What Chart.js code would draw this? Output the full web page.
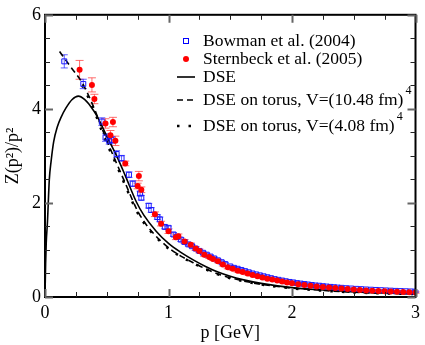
<!DOCTYPE html>
<html>
<head>
<meta charset="utf-8">
<script src="https://cdn.jsdelivr.net/npm/chart.js@4.4.1/dist/chart.umd.min.js"></script>
<style>
html,body{margin:0;padding:0;background:#fff;}
#c{display:block;}
</style>
</head>
<body>
<canvas id="c" width="425" height="345" style="width:425px;height:345px"></canvas>
<script>
// ---- data ----
const bowmanP = [0.156,0.31,0.46,0.49,0.52,0.54,0.58,0.62,0.68,0.71,0.77,0.78,0.84,0.86,0.91,0.93,0.97,1.00,1.04,1.07,1.10,1.13,1.16,1.19,1.22,1.25,1.28,1.31,1.34,1.37,1.40,1.43,1.46,1.50,1.53,1.56,1.59,1.62,1.65,1.68,1.71,1.74,1.77,1.80,1.83,1.86,1.89,1.92,1.95,1.98,2.01,2.04,2.07,2.10,2.13,2.16,2.19,2.22,2.25,2.28,2.31,2.34,2.37,2.40,2.44,2.48,2.52,2.56,2.60,2.64,2.68,2.72,2.76,2.80,2.84,2.88,2.92,2.96,3.00];
const bowmanZ = [5.01,4.53,3.73,3.39,3.32,3.34,3.04,2.95,2.60,2.41,2.20,2.11,1.94,1.85,1.70,1.65,1.49,1.47,1.33,1.28,1.22,1.17,1.12,1.08,1.03,0.98,0.94,0.90,0.86,0.82,0.78,0.74,0.70,0.65,0.62,0.60,0.575,0.55,0.525,0.50,0.48,0.46,0.44,0.42,0.40,0.38,0.365,0.35,0.335,0.32,0.31,0.295,0.285,0.275,0.265,0.255,0.245,0.24,0.23,0.222,0.215,0.208,0.20,0.195,0.187,0.18,0.173,0.167,0.16,0.155,0.15,0.145,0.14,0.135,0.13,0.126,0.122,0.118,0.115];
const bowmanErr = [0.14,0.10,0.08,0.08,0.07,0.07,0.07,0.06,0.06,0.06,0.05,0.05,0.05,0.05,0.05,0.05,0.04,0.04,0.04,0.04,0.04,0.04,0.03,0.03,0.03,0.03,0.03,0.03,0.03,0.03,0.03,0.03,0.03,0.025,0.025,0.025,0.025,0.025,0.025,0.025,0.02,0.02,0.02,0.02,0.02,0.02,0.02,0.02,0.02,0.02,0.02,0.02,0.02,0.02,0.015,0.015,0.015,0.015,0.015,0.015,0.015,0.015,0.015,0.015,0.015,0.015,0.015,0.015,0.015,0.015,0.015,0.015,0.015,0.015,0.015,0.015,0.015,0.015,0.015];

const sternbeckP = [0.28,0.38,0.40,0.49,0.53,0.55,0.57,0.65,0.75,0.76,0.78,0.89,0.94,1.00,1.06,1.08,1.13,1.18,1.22,1.25,1.29,1.33,1.36,1.40,1.44,1.48,1.52,1.56,1.60,1.64,1.68,1.72,1.76,1.80,1.84,1.88,1.92,1.96,2.00,2.05,2.10,2.15,2.20,2.25,2.30,2.35,2.40,2.45,2.50,2.55,2.60,2.65,2.70,2.75,2.80,2.85,2.90,2.95,3.00];
const sternbeckZ = [4.83,4.51,4.21,3.69,3.44,3.72,3.32,2.84,2.36,2.57,2.28,1.76,1.56,1.40,1.27,1.29,1.18,1.11,1.03,0.98,0.90,0.85,0.81,0.76,0.69,0.63,0.60,0.56,0.53,0.50,0.47,0.44,0.415,0.39,0.37,0.35,0.33,0.31,0.29,0.27,0.255,0.24,0.225,0.21,0.20,0.19,0.18,0.17,0.16,0.15,0.14,0.135,0.128,0.12,0.115,0.11,0.105,0.10,0.095];
const sternbeckErr = [0.20,0.15,0.10,0.10,0.10,0.10,0.10,0.05,0.06,0.10,0.06,0.05,0.05,0.05,0.05,0.05,0.04,0.04,0.04,0.04,0.04,0.03,0.03,0.03,0.03,0.03,0.03,0.03,0.03,0.03,0.025,0.025,0.025,0.025,0.02,0.02,0.02,0.02,0.02,0.02,0.02,0.02,0.02,0.015,0.015,0.015,0.015,0.015,0.015,0.015,0.015,0.015,0.015,0.015,0.015,0.015,0.015,0.015,0.015];

const dseP = [0,0.005,0.01,0.02,0.035,0.05,0.07,0.10,0.13,0.17,0.22,0.27,0.32,0.37,0.42,0.50,0.58,0.65,0.74,0.80,0.90,1.00,1.10,1.20,1.30,1.40,1.50,1.60,1.75,2.00,2.25,2.50,2.75,3.00];
const dseZ = [0,0.7,1.15,1.6,2.5,2.9,3.3,3.62,3.82,4.02,4.2,4.27,4.2,4.05,3.85,3.42,3.0,2.58,2.02,1.74,1.40,1.14,0.95,0.79,0.65,0.53,0.44,0.37,0.29,0.2,0.15,0.11,0.085,0.07];

const torus1P = [0.118,0.20,0.30,0.35,0.40,0.45,0.50,0.58,0.65,0.74,0.80,0.90,1.00,1.10,1.20,1.30,1.40,1.50,1.60,1.75,2.00,2.25,2.50,2.75,3.00];
const torus1Z = [5.22,4.92,4.56,4.3,4.0,3.66,3.33,2.84,2.42,1.88,1.61,1.29,1.05,0.87,0.73,0.6,0.49,0.41,0.345,0.27,0.19,0.14,0.1,0.08,0.065];

const torus2P = [0.30,0.35,0.40,0.45,0.50,0.58,0.65,0.74,0.80,0.90,1.00,1.10,1.20,1.30,1.40,1.50,1.60,1.75,2.00,2.25,2.50,2.75,3.00];
const torus2Z = [4.5,4.25,3.95,3.6,3.27,2.8,2.37,1.84,1.58,1.27,1.03,0.86,0.72,0.59,0.48,0.40,0.34,0.265,0.185,0.135,0.098,0.077,0.063];

const xTickValues = [0,1,2,3];
const yTickValues = [0,2,4,6];
const legendLabels = ['Bowman et al. (2004)','Sternbeck et al. (2005)','DSE','DSE on torus, V=(10.48 fm)','DSE on torus, V=(4.08 fm)'];
const legendSup = ['','','','4','4'];
const xTitle = 'p [GeV]';
const yTitle = 'Z(p\u00B2)/p\u00B2';

const pts = (P,Z) => P.map((p,i)=>({x:p,y:Z[i]}));
const SERIF = '"Liberation Serif", "DejaVu Serif", serif';

const errorBars = {
  id:'errorBars',
  beforeDatasetsDraw(chart){
    const ctx = chart.ctx, xs = chart.scales.x, ys = chart.scales.y;
    ctx.save();
    chart.data.datasets.forEach(ds=>{
      if(!ds.errs) return;
      ctx.strokeStyle = ds.errColor; ctx.lineWidth = 1;
      ds.data.forEach((d,i)=>{
        const e = ds.errs[i];
        const px = xs.getPixelForValue(d.x);
        const y1 = ys.getPixelForValue(d.y - e), y2 = ys.getPixelForValue(d.y + e);
        const c = ds.capHalf;
        ctx.beginPath();
        ctx.moveTo(px, y1); ctx.lineTo(px, y2);
        ctx.moveTo(px-c, y1); ctx.lineTo(px+c, y1);
        ctx.moveTo(px-c, y2); ctx.lineTo(px+c, y2);
        ctx.stroke();
      });
    });
    ctx.restore();
  }
};

const frameTicks = {
  id:'frameTicks',
  afterDraw(chart){
    const ctx = chart.ctx, xs = chart.scales.x, ys = chart.scales.y, a = chart.chartArea;
    ctx.save();
    ctx.strokeStyle = '#000'; ctx.lineWidth = 2;
    ctx.strokeRect(a.left, a.top, a.right-a.left, a.bottom-a.top);
    for(let k=0;k<=12;k++){
      const v = k*0.25, px = Math.round(xs.getPixelForValue(v))+0.5;
      const major = (k%4===0);
      const L = major ? 8 : 5;
      ctx.strokeStyle = major ? '#666' : '#222';
      ctx.lineWidth = major ? 2 : 1;
      ctx.beginPath();
      ctx.moveTo(px, a.bottom); ctx.lineTo(px, a.bottom-L);
      ctx.moveTo(px, a.top); ctx.lineTo(px, a.top+L);
      ctx.stroke();
    }
    for(let k=0;k<=12;k++){
      const v = k*0.5, py = Math.round(ys.getPixelForValue(v))+0.5;
      const major = (k%4===0);
      const L = major ? 8 : 5;
      ctx.strokeStyle = major ? '#666' : '#222';
      ctx.lineWidth = major ? 2 : 1;
      ctx.beginPath();
      ctx.moveTo(a.left, py); ctx.lineTo(a.left+L, py);
      ctx.moveTo(a.right, py); ctx.lineTo(a.right-L, py);
      ctx.stroke();
    }
    ctx.restore();
  }
};

const legendBox = {
  id:'legendBox',
  afterDraw(chart){
    const ctx = chart.ctx;
    const rows = [41, 59, 77, 100, 126];
    const sx = 186, tx = 203;
    ctx.save();
    rows.forEach((y,i)=>{
      if(i===0){
        ctx.strokeStyle='#0000ff'; ctx.lineWidth=1;
        ctx.strokeRect(sx-2.5, y-2.5, 5, 5);
      } else if(i===1){
        ctx.fillStyle='#ff0000'; ctx.beginPath(); ctx.arc(sx, y, 3, 0, Math.PI*2); ctx.fill();
      } else {
        ctx.strokeStyle='#000'; ctx.lineWidth = i===4 ? 2.5 : 1.6;
        ctx.setLineDash(i===2 ? [] : (i===3 ? [6,4] : [2.5,9]));
        ctx.beginPath(); ctx.moveTo(177, y); ctx.lineTo(195, y); ctx.stroke();
        ctx.setLineDash([]);
      }
      ctx.fillStyle='#000';
      ctx.font = '17.5px ' + SERIF;
      ctx.textBaseline='middle'; ctx.textAlign='left';
      ctx.fillText(legendLabels[i], tx, y);
      if(legendSup[i]){
        const w = ctx.measureText(legendLabels[i]).width;
        ctx.font = '12px ' + SERIF;
        ctx.fillText(legendSup[i], tx + w + 2, y - 9);
      }
    });
    ctx.restore();
  }
};

new Chart(document.getElementById('c'), {
  type:'scatter',
  data:{
    datasets:[
      {label:legendLabels[1], data:pts(sternbeckP, sternbeckZ), errs:sternbeckErr, errColor:'rgba(255,60,60,0.75)', capHalf:4,
       pointStyle:'circle', pointRadius:3, backgroundColor:'#ff0000', borderColor:'#ff0000', borderWidth:0, order:0},
      {label:legendLabels[0], data:pts(bowmanP, bowmanZ), errs:bowmanErr, errColor:'rgba(40,40,255,0.75)', capHalf:3.5,
       pointStyle:'rect', pointRadius:3.5, backgroundColor:'rgba(255,255,255,0)', borderColor:'#1a1aff', borderWidth:1, order:1},
      {label:legendLabels[2], data:pts(dseP, dseZ), showLine:true, pointRadius:0, borderColor:'#000', borderWidth:1.6,
       cubicInterpolationMode:'monotone', fill:false, order:2},
      {label:legendLabels[3], data:pts(torus1P, torus1Z), showLine:true, pointRadius:0, borderColor:'#000', borderWidth:1.6,
       borderDash:[6,4], cubicInterpolationMode:'monotone', fill:false, order:3},
      {label:legendLabels[4], data:pts(torus2P, torus2Z), showLine:true, pointRadius:0, borderColor:'#000', borderWidth:2.5,
       borderDash:[2.5,9], cubicInterpolationMode:'monotone', fill:false, order:4}
    ]
  },
  options:{
    responsive:false, animation:false, devicePixelRatio:1,
    layout:{padding:{left:0,right:4,top:8,bottom:0}},
    plugins:{legend:{display:false}, tooltip:{enabled:false}},
    scales:{
      x:{type:'linear', min:0, max:3,
         afterBuildTicks(s){ s.ticks = xTickValues.map(v=>({value:v})); },
         grid:{display:false, drawTicks:false},
         border:{display:false},
         ticks:{color:'#000', padding:5, maxRotation:0, font:{family:SERIF, size:18}},
         title:{display:true, text:xTitle, color:'#000', font:{family:SERIF, size:18}, padding:{top:0,bottom:1}},
         afterFit(s){ s.height = 48; }},
      y:{type:'linear', min:0, max:6,
         afterBuildTicks(s){ s.ticks = yTickValues.map(v=>({value:v})); },
         grid:{display:false, drawTicks:false},
         border:{display:false},
         ticks:{color:'#000', padding:4, font:{family:SERIF, size:18}},
         title:{display:true, text:yTitle, color:'#000', font:{family:SERIF, size:18}, padding:{top:2,bottom:0}},
         afterFit(s){ s.width = 45; }}
    }
  },
  plugins:[errorBars, frameTicks, legendBox]
});
</script>
</body>
</html>
